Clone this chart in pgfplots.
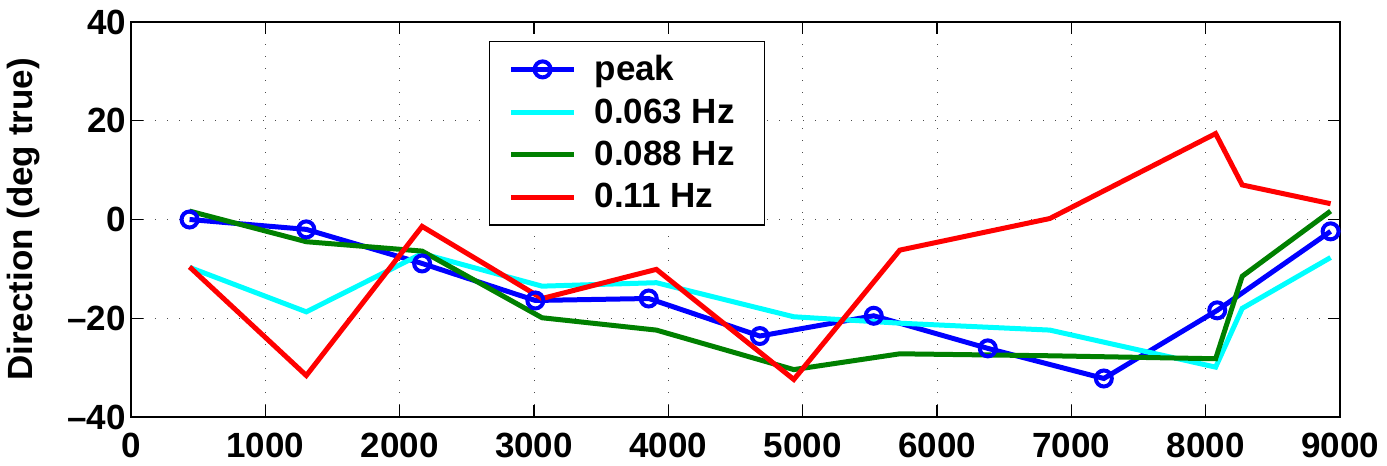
\documentclass[border=0pt]{standalone}
\usepackage{fontspec}
\setmainfont{Liberation Sans}
\usepackage{pgfplots}
\pgfplotsset{compat=1.18}

\definecolor{mblue}{rgb}{0,0,1}
\definecolor{mcyan}{rgb}{0,1,1}
\definecolor{mgreen}{rgb}{0,0.5,0}
\definecolor{mred}{rgb}{1,0,0}

\newcommand{\lblfont}{\fontsize{17.5}{21}\selectfont\bfseries}

\begin{document}
\begin{tikzpicture}
\begin{axis}[
  scale only axis,
  width=604.5pt, height=197.5pt,
  xmin=0, xmax=9000, ymin=-40, ymax=40,
  xtick={0,1000,...,9000},
  ytick={-40,-20,0,20,40},
  yticklabels={--40,--20,0,20,40},
  scaled x ticks=false,
  /pgf/number format/assume math mode=true,
  /pgf/number format/1000 sep={},
  tick label style={font=\lblfont},
  xticklabel style={yshift=-4.5pt},
  yticklabel style={xshift=1pt},
  ylabel={Direction (deg true)},
  ylabel style={font=\lblfont, at={(axis description cs:-0.0885,0.5)}, anchor=center},
  tick align=inside,
  major tick length=6pt,
  axis line style={line width=0.65pt},
  every tick/.style={black, line width=0.65pt},
  grid=major,
  major grid style={black!70, line width=0.5pt, dash pattern=on 0.5pt off 5.5pt},
  legend style={at={(axis description cs:0.296,0.953)}, anchor=north west,
    font=\lblfont, draw=black, line width=0.65pt,
    row sep=3.5pt, column sep=3.5pt, inner xsep=9.5pt, inner ysep=5pt, cells={anchor=west},
    nodes={inner ysep=2pt, inner xsep=5.5pt}},
  legend cell align=left,
  legend image code/.code={\draw[mark repeat=2,mark phase=2] plot coordinates {(0cm,0cm) (0.555cm,0cm) (1.11cm,0cm)};},
]
\addplot[color=mblue, line width=2.5pt, mark=o, mark size=4pt, mark options={line width=2pt}] coordinates {
  (436,0.0) (1305,-2.0) (2167,-8.9) (3010,-16.4) (3854,-16.0) (4681,-23.6)
  (5529,-19.5) (6378,-26.1) (7242,-32.2) (8086,-18.4) (8930,-2.4)};
\addlegendentry{peak}
\addplot[color=mcyan, line width=2.5pt] coordinates {
  (436,-9.7) (1305,-18.7) (2167,-6.9) (3060,-13.5) (3911,-12.8) (4934,-19.7)
  (5723,-21.0) (6840,-22.4) (8074,-29.9) (8272,-18.0) (8930,-7.7)};
\addlegendentry{0.063 Hz}
\addplot[color=mgreen, line width=2.5pt] coordinates {
  (436,1.7) (1305,-4.5) (2167,-6.4) (3060,-19.9) (3911,-22.4) (4934,-30.4)
  (5723,-27.2) (6840,-27.6) (8074,-28.2) (8272,-11.5) (8930,1.7)};
\addlegendentry{0.088 Hz}
\addplot[color=mred, line width=2.5pt] coordinates {
  (436,-9.6) (1305,-31.6) (2167,-1.4) (3060,-16.0) (3911,-10.1) (4934,-32.4)
  (5723,-6.2) (6840,0.2) (8074,17.4) (8272,7.0) (8930,3.2)};
\addlegendentry{0.11 Hz}
\end{axis}
\pgfresetboundingbox
\useasboundingbox ([xshift=-65.5pt,yshift=-24pt]current axis.south west) rectangle ([xshift=23.5pt,yshift=11pt]current axis.north east);
\end{tikzpicture}
\end{document}
